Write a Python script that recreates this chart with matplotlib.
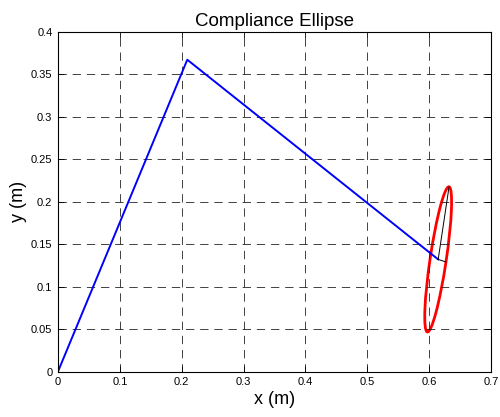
import matplotlib
matplotlib.use("Agg")
import matplotlib.pyplot as plt
from matplotlib.patches import Ellipse
import numpy as np

plt.rcParams['font.family'] = ['Liberation Sans', 'DejaVu Sans']

# arm links: base -> elbow -> end effector
link_x = [0.0, 0.209, 0.6146]
link_y = [0.0, 0.367, 0.132]

# ellipse principal axes (half-axis vectors from end effector)
major_vec = [0.0176, 0.0854]
minor_vec = [0.0126, -0.0030]

xticks = [0, 0.1, 0.2, 0.3, 0.4, 0.5, 0.6, 0.7]
yticks = [0, 0.05, 0.1, 0.15, 0.2, 0.25, 0.3, 0.35, 0.4]

fig = plt.figure(figsize=(5, 4.17), dpi=100)
ax = fig.add_axes([0.116, 0.109, 0.866, 0.815])

ax.plot(link_x, link_y, color='blue', linewidth=1.4)

cx, cy = link_x[-1], link_y[-1]
ax.plot([cx, cx + major_vec[0]], [cy, cy + major_vec[1]], color='black', linewidth=0.7)
ax.plot([cx, cx + minor_vec[0]], [cy, cy + minor_vec[1]], color='black', linewidth=0.7)

a = np.hypot(*major_vec)
b = np.hypot(*minor_vec)
ang = np.degrees(np.arctan2(major_vec[1], major_vec[0]))
ax.add_patch(Ellipse((cx, cy), 2 * a, 2 * b, angle=ang, fill=False,
                     edgecolor='red', linewidth=2))

ax.set_xlim(0, 0.7)
ax.set_ylim(0, 0.4)
ax.set_xticks(xticks)
ax.set_yticks(yticks)
ax.set_xticklabels(['0', '0.1', '0.2', '0.3', '0.4', '0.5', '0.6', '0.7'])
ax.set_yticklabels(['0', '0.05', '0.1', '0.15', '0.2', '0.25', '0.3', '0.35', '0.4'])
ax.tick_params(direction='in', top=True, right=True, labelsize=8, length=4,
               width=0.6, pad=4)
ax.grid(True, color='#222222', linestyle=(0, (10, 7)), linewidth=0.6)
for s in ax.spines.values():
    s.set_linewidth(0.8)

ax.set_title('Compliance Ellipse', fontsize=13.5, pad=4)
ax.set_xlabel('x (m)', fontsize=13, labelpad=3)
ax.set_ylabel('y (m)', fontsize=13, labelpad=3)

plt.savefig('out.png', dpi=100)
